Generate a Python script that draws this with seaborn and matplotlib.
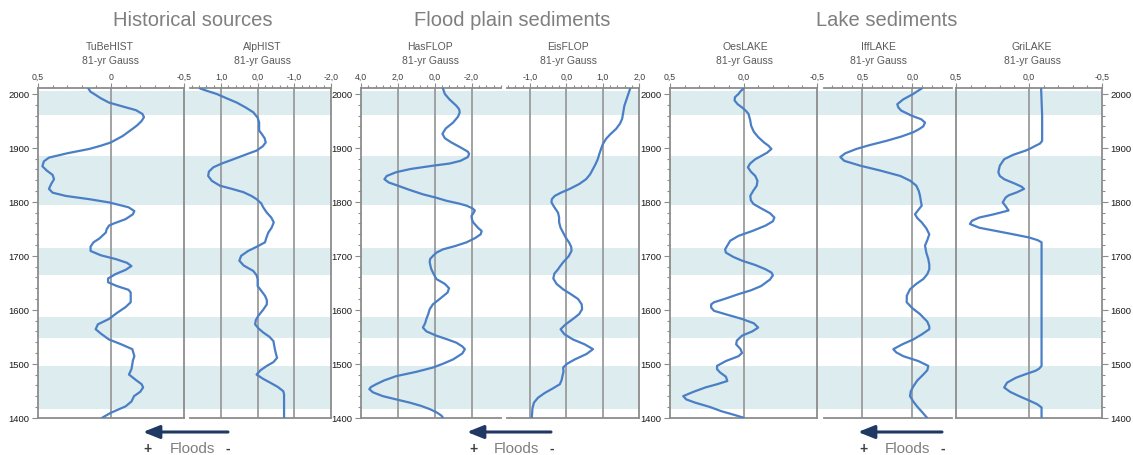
import matplotlib
matplotlib.use("Agg")
import matplotlib.pyplot as plt
import seaborn as sns
from matplotlib.ticker import MultipleLocator

# ---------------- data ----------------
band_ranges = [(1961, 2005), (1795, 1885), (1665, 1714), (1548, 1587), (1417, 1495)]

group_titles = ["Historical sources", "Flood plain sediments", "Lake sediments"]
panel_names = ["TuBeHIST", "AlpHIST", "HasFLOP", "EisFLOP", "OesLAKE", "IffLAKE", "GriLAKE"]
filter_label = "81-yr Gauss"

tubehist_year = [2010, 2004, 2000, 1992, 1984, 1976, 1970, 1963, 1957, 1950, 1942, 1935, 1922, 1910,
                 1904, 1898, 1890, 1882, 1875, 1866, 1858, 1850, 1842, 1833, 1824, 1817, 1811, 1805,
                 1799, 1790, 1783, 1777, 1768, 1760, 1756, 1749, 1743, 1732, 1725, 1717, 1709, 1701,
                 1694, 1687, 1681, 1674, 1666, 1658, 1651, 1644, 1637, 1632, 1614, 1605, 1594, 1583,
                 1573, 1564, 1556, 1545, 1536, 1527, 1514, 1506, 1499, 1490, 1480, 1470, 1462, 1456,
                 1448, 1440, 1430, 1421, 1414, 1409, 1400]
tubehist_val = [0.155, 0.14, 0.116, 0.07, 0.014, -0.09, -0.17, -0.215, -0.226, -0.21, -0.18, -0.146,
                -0.08, 0.002, 0.07, 0.15, 0.3, 0.425, 0.46, 0.47, 0.44, 0.4, 0.39, 0.41, 0.425, 0.4,
                0.31, 0.15, 0.014, -0.12, -0.16, -0.15, -0.1, -0.02, 0.014, 0.03, 0.036, 0.08, 0.12,
                0.14, 0.14, 0.07, -0.032, -0.11, -0.14, -0.1, -0.03, 0.02, 0.02, -0.04, -0.12, -0.135,
                -0.135, -0.1, -0.04, 0.014, 0.09, 0.105, 0.07, 0.014, -0.07, -0.146, -0.16, -0.15,
                -0.146, -0.14, -0.123, -0.17, -0.21, -0.22, -0.2, -0.158, -0.14, -0.1, -0.04, 0.002,
                0.06]

alphist_year = [2010, 2005, 2000, 1992, 1984, 1975, 1966, 1956, 1947, 1932, 1927, 1918, 1910, 1903,
                1895, 1887, 1879, 1871, 1864, 1856, 1848, 1839, 1830, 1824, 1818, 1811, 1805, 1797,
                1790, 1780, 1771, 1762, 1752, 1743, 1734, 1725, 1717, 1709, 1700, 1691, 1682, 1672,
                1664, 1657, 1644, 1635, 1626, 1618, 1610, 1600, 1589, 1581, 1573, 1565, 1558, 1550,
                1542, 1534, 1527, 1518, 1511, 1503, 1496, 1488, 1480, 1472, 1465, 1457, 1449, 1443,
                1400]
alphist_val = [1.57, 1.35, 1.12, 0.85, 0.57, 0.33, 0.12, 0.0, -0.04, -0.04, -0.1, -0.19, -0.22, -0.14,
               0.03, 0.35, 0.66, 0.98, 1.21, 1.33, 1.35, 1.25, 1.03, 0.7, 0.39, 0.17, 0.03, -0.1,
               -0.15, -0.25, -0.37, -0.44, -0.38, -0.29, -0.24, -0.2, 0.02, 0.26, 0.45, 0.5, 0.38,
               0.12, 0.03, 0.0, 0.0, -0.1, -0.2, -0.25, -0.25, -0.15, -0.02, 0.05, 0.07, -0.03, -0.15,
               -0.32, -0.43, -0.45, -0.47, -0.5, -0.53, -0.43, -0.25, -0.08, 0.03, -0.15, -0.34,
               -0.55, -0.7, -0.72, -0.72]

hasflop_year = [2010, 2000, 1990, 1978, 1972, 1966, 1958, 1947, 1936, 1926, 1918, 1910, 1900, 1893,
                1889, 1883, 1876, 1871, 1867, 1861, 1855, 1848, 1842, 1836, 1830, 1822, 1814, 1808,
                1802, 1797, 1793, 1788, 1784, 1779, 1774, 1768, 1762, 1752, 1746, 1740, 1733, 1725,
                1718, 1712, 1706, 1700, 1694, 1688, 1680, 1675, 1666, 1657, 1648, 1640, 1632, 1620,
                1610, 1601, 1592, 1583, 1575, 1567, 1560, 1552, 1545, 1539, 1532, 1527, 1519, 1508,
                1500, 1493, 1485, 1477, 1469, 1462, 1457, 1453, 1447, 1440, 1434, 1428, 1422, 1416,
                1410, 1404, 1400]
hasflop_val = [-0.45, -0.55, -0.8, -1.18, -1.32, -1.36, -1.27, -1.0, -0.6, -0.42, -0.55, -0.91, -1.45,
               -1.8, -1.87, -1.8, -1.4, -0.8, 0.09, 1.3, 2.09, 2.6, 2.73, 2.5, 2.0, 1.35, 0.64, -0.05,
               -0.64, -1.3, -1.73, -2.05, -2.18, -2.1, -2.0, -2.02, -2.09, -2.35, -2.55, -2.5, -2.2,
               -1.73, -1.1, -0.45, -0.1, 0.09, 0.25, 0.27, 0.22, 0.18, 0.05, -0.09, -0.55, -0.78,
               -0.7, -0.27, 0.1, 0.27, 0.35, 0.45, 0.52, 0.64, 0.45, -0.09, -0.7, -1.18, -1.5, -1.64,
               -1.5, -1.0, -0.45, 0.09, 1.0, 2.09, 2.75, 3.18, 3.45, 3.55, 3.35, 2.82, 2.1, 1.36,
               0.75, 0.27, -0.1, -0.36, -0.45]

eisflop_year = [2010, 2000, 1978, 1962, 1954, 1945, 1935, 1925, 1917, 1907, 1898, 1888, 1879, 1870,
                1861, 1851, 1842, 1833, 1824, 1817, 1811, 1805, 1799, 1790, 1780, 1771, 1762, 1752,
                1743, 1734, 1725, 1717, 1709, 1699, 1688, 1680, 1675, 1667, 1658, 1648, 1638, 1629,
                1620, 1610, 1601, 1592, 1583, 1573, 1564, 1555, 1545, 1536, 1527, 1518, 1508, 1500,
                1493, 1485, 1477, 1470, 1462, 1454, 1446, 1437, 1428, 1418, 1400]
eisflop_val = [1.75, 1.70, 1.59, 1.55, 1.53, 1.47, 1.36, 1.2, 1.09, 1.0, 0.95, 0.9, 0.86, 0.8, 0.73,
               0.65, 0.54, 0.35, 0.09, -0.15, -0.32, -0.4, -0.41, -0.33, -0.23, -0.2, -0.2, -0.16,
               -0.09, -0.02, 0.07, 0.13, 0.14, 0.06, -0.09, -0.18, -0.23, -0.33, -0.36, -0.27, -0.09,
               0.12, 0.32, 0.42, 0.43, 0.35, 0.18, -0.02, -0.16, -0.06, 0.18, 0.5, 0.73, 0.55, 0.23,
               0.02, -0.09, -0.08, -0.11, -0.13, -0.18, -0.38, -0.59, -0.78, -0.89, -0.93, -0.95]

oeslake_year = [2010, 2005, 2000, 1994, 1988, 1981, 1975, 1969, 1963, 1952, 1941, 1930, 1920, 1910,
                1904, 1898, 1891, 1885, 1879, 1871, 1864, 1856, 1848, 1839, 1830, 1820, 1811, 1803,
                1796, 1788, 1779, 1771, 1764, 1756, 1746, 1737, 1728, 1719, 1712, 1706, 1698, 1691,
                1683, 1675, 1669, 1664, 1656, 1650, 1644, 1636, 1629, 1620, 1614, 1610, 1604, 1598,
                1590, 1583, 1575, 1567, 1560, 1552, 1543, 1536, 1527, 1520, 1514, 1505, 1496, 1490,
                1484, 1476, 1468, 1462, 1456, 1448, 1440, 1434, 1428, 1420, 1412, 1405, 1400]
oeslake_val = [0.0, 0.02, 0.034, 0.058, 0.061, 0.04, 0.01, -0.015, -0.034, -0.045, -0.052, -0.07,
               -0.1, -0.14, -0.17, -0.19, -0.16, -0.12, -0.08, -0.045, -0.03, -0.05, -0.08, -0.095,
               -0.09, -0.065, -0.046, -0.05, -0.068, -0.12, -0.18, -0.21, -0.2, -0.15, -0.06, 0.034,
               0.09, 0.11, 0.125, 0.12, 0.07, 0.01, -0.08, -0.15, -0.19, -0.2, -0.18, -0.15, -0.12,
               -0.05, 0.034, 0.13, 0.2, 0.22, 0.22, 0.2, 0.1, 0.01, -0.07, -0.1, -0.06, 0.01, 0.045,
               0.05, 0.02, 0.01, 0.034, 0.12, 0.18, 0.18, 0.16, 0.12, 0.11, 0.18, 0.26, 0.34, 0.41,
               0.39, 0.33, 0.23, 0.15, 0.06, 0.0]

ifflake_year = [2010, 2005, 2000, 1990, 1981, 1975, 1969, 1960, 1953, 1947, 1940, 1935, 1929, 1921,
                1913, 1905, 1898, 1890, 1883, 1876, 1867, 1858, 1848, 1839, 1830, 1820, 1811, 1802,
                1793, 1785, 1777, 1770, 1762, 1751, 1740, 1729, 1719, 1706, 1694, 1684, 1675, 1666,
                1657, 1648, 1638, 1626, 1614, 1603, 1592, 1578, 1569, 1564, 1555, 1545, 1536, 1527,
                1521, 1514, 1505, 1496, 1488, 1480, 1469, 1458, 1449, 1440, 1430, 1421, 1410, 1400]
ifflake_val = [-0.094, -0.05, -0.01, 0.09, 0.15, 0.14, 0.11, 0.01, -0.09, -0.127, -0.11, -0.07, -0.01,
               0.11, 0.26, 0.43, 0.56, 0.67, 0.72, 0.68, 0.52, 0.32, 0.12, 0.02, -0.04, -0.065,
               -0.077, -0.085, -0.094, -0.06, -0.027, -0.05, -0.094, -0.14, -0.17, -0.15, -0.127,
               -0.14, -0.16, -0.17, -0.17, -0.15, -0.11, -0.04, 0.023, 0.055, 0.056, 0.0, -0.077,
               -0.15, -0.17, -0.17, -0.1, -0.01, 0.1, 0.19, 0.16, 0.09, -0.06, -0.16, -0.15, -0.11,
               -0.05, -0.01, 0.015, 0.023, -0.01, -0.047, -0.1, -0.147]

grilake_year = [2010, 1960, 1913, 1908, 1904, 1899, 1895, 1887, 1879, 1867, 1855, 1848, 1842, 1833,
                1828, 1824, 1818, 1812, 1808, 1799, 1792, 1784, 1777, 1771, 1765, 1759, 1752, 1746,
                1740, 1734, 1729, 1725, 1496, 1491, 1487, 1480, 1474, 1465, 1456, 1448, 1440, 1432,
                1425, 1419, 1400]
grilake_val = [-0.083, -0.09, -0.09, -0.075, -0.045, -0.01, 0.023, 0.11, 0.17, 0.2, 0.21, 0.2, 0.17,
               0.09, 0.05, 0.034, 0.08, 0.14, 0.16, 0.18, 0.16, 0.14, 0.24, 0.34, 0.39, 0.405, 0.34,
               0.225, 0.11, 0.0, -0.06, -0.086, -0.086, -0.07, -0.045, 0.03, 0.09, 0.15, 0.17, 0.13,
               0.068, 0.0, -0.056, -0.086, -0.086]

p1_ticks, p1_labels = [0.5, 0.0, -0.5], ["0,5", "0", "-0,5"]
p2_ticks, p2_labels = [1.0, 0.0, -1.0, -2.0], ["1,0", "0,0", "-1,0", "-2,0"]
p3_ticks, p3_labels = [4.0, 2.0, 0.0, -2.0], ["4,0", "2,0", "0,0", "-2,0"]
p4_ticks, p4_labels = [-1.0, 0.0, 1.0, 2.0], ["-1,0", "0,0", "1,0", "2,0"]
p5_ticks, p5_labels = [0.5, 0.0, -0.5], ["0,5", "0,0", "-0,5"]
p6_ticks, p6_labels = [0.5, 0.0], ["0,5", "0,0"]
p7_ticks, p7_labels = [0.5, 0.0, -0.5], ["0,5", "0,0", "-0,5"]
year_ticks = [1400, 1500, 1600, 1700, 1800, 1900, 2000]

# ---------------- style ----------------
sns.set_theme(style="white")
plt.rcParams['font.family'] = ['Liberation Sans', 'DejaVu Sans']

W, H = 1133, 456
Y_TOP, Y_BOT = 89, 418.7
YLIM = (1400, 2011)
LINE = "#4a7fc6"
GRID = "#9b9b9b"
SPINE = "#8c8c8c"
BAND = "#dcecef"

fig = plt.figure(figsize=(W / 100, H / 100), dpi=100)
yb = (H - Y_BOT) / H
hh = (Y_BOT - Y_TOP) / H


def rect(x0, x1):
    return [x0 / W, yb, (x1 - x0) / W, hh]


# band backgrounds per group
for gx0, gx1 in [(38, 331), (361, 639.3), (670, 1102)]:
    bg = fig.add_axes(rect(gx0, gx1))
    for lo, hi in band_ranges:
        bg.axhspan(lo, hi, color=BAND, lw=0)
    bg.set_ylim(*YLIM)
    bg.axis("off")


def panel(x0, x1, xlim, ticks, labels, minor, years, vals, spines, grid, yside):
    ax = fig.add_axes(rect(x0, x1), facecolor="none")
    sns.lineplot(x=vals, y=years, ax=ax, sort=False, estimator=None, color=LINE, lw=1.6,
                 zorder=3, solid_joinstyle="round", solid_capstyle="round")
    ax.set_xlim(*xlim)
    ax.set_ylim(*YLIM)
    ax.set_xlabel("")
    ax.set_ylabel("")
    for g in grid:
        ax.axvline(g, color=GRID, lw=1.3, zorder=1)
    for s in ["left", "right", "top", "bottom"]:
        ax.spines[s].set_visible(s in spines)
        ax.spines[s].set_color(SPINE)
        ax.spines[s].set_linewidth(1.3)
    ax.xaxis.tick_top()
    ax.set_xticks(ticks)
    ax.set_xticklabels(labels)
    ax.xaxis.set_minor_locator(MultipleLocator(minor))
    ax.tick_params(axis="x", which="both", top=True, bottom=False, labeltop=True,
                   labelbottom=False, direction="out", color=SPINE, width=0.8,
                   labelcolor="#404040", labelsize=6.3, pad=1.5)
    ax.tick_params(axis="x", which="major", length=3.5)
    ax.tick_params(axis="x", which="minor", length=2)
    ax.grid(False)
    if yside in ("left", "right"):
        if yside == "left":
            ax.yaxis.tick_left()
        else:
            ax.yaxis.tick_right()
        ax.set_yticks(year_ticks)
        ax.set_yticklabels([str(y) for y in year_ticks])
        ax.yaxis.set_minor_locator(MultipleLocator(20))
        ax.tick_params(axis="y", which="both", direction="out", color=SPINE, width=0.8,
                       labelcolor="#1a1a1a", labelsize=6.8, pad=2)
        ax.tick_params(axis="y", which="major", length=4)
        ax.tick_params(axis="y", which="minor", length=2)
    else:
        ax.tick_params(axis="y", which="both", left=False, right=False,
                       labelleft=False, labelright=False)
    return ax


panel(38, 184, (0.5, -0.5), p1_ticks, p1_labels, 0.1, tubehist_year, tubehist_val,
      ["left", "right", "top", "bottom"], [0.0], "left")
panel(190, 331, (1.845, -2.0), p2_ticks, p2_labels, 0.2, alphist_year, alphist_val,
      ["right", "top", "bottom"], [1.0, 0.0, -1.0], "none")
panel(361, 501, (4.0, -3.6), p3_ticks, p3_labels, 0.4, hasflop_year, hasflop_val,
      ["left", "top", "bottom"], [2.0, 0.0, -2.0], "left")
panel(507, 639.3, (-1.63, 2.0), p4_ticks, p4_labels, 0.2, eisflop_year, eisflop_val,
      ["right", "top", "bottom"], [-1.0, 0.0, 1.0], "none")
panel(670, 817, (0.5, -0.5), p5_ticks, p5_labels, 0.1, oeslake_year, oeslake_val,
      ["left", "right", "top", "bottom"], [0.0], "left")
panel(824, 952, (0.883, -0.397), p6_ticks, p6_labels, 0.1, ifflake_year, ifflake_val,
      ["top", "bottom"], [0.5, 0.0], "none")
panel(956, 1102, (0.5, -0.5), p7_ticks, p7_labels, 0.1, grilake_year, grilake_val,
      ["left", "right", "top", "bottom"], [0.0], "right")

# ---------------- overlay text / arrows ----------------
ov = fig.add_axes([0, 0, 1, 1], facecolor="none")
ov.set_xlim(0, W)
ov.set_ylim(H, 0)
ov.axis("off")

for txt, cx in zip(group_titles, [193, 512, 887]):
    ov.text(cx, 21, txt, ha="center", va="center", fontsize=14.5, color="#7f7f7f")

for name, cx in zip(panel_names, [110, 262, 430, 568, 745, 878, 1032]):
    ov.text(cx, 47.5, name, ha="center", va="center", fontsize=7.5, color="#595959")
    ov.text(cx, 61.5, filter_label, ha="center", va="center", fontsize=7.5, color="#595959")

for ax0, ax1, plus_x, fl_x, minus_x in [(228, 143, 147, 192, 228),
                                          (551, 467, 473, 516, 552),
                                          (942, 858, 863, 907, 943)]:
    ov.annotate("", xy=(ax1, 433), xytext=(ax0, 433),
                arrowprops=dict(arrowstyle="-|>,head_length=0.55,head_width=0.22",
                                color="#1f3864", lw=2.2, mutation_scale=18,
                                shrinkA=0, shrinkB=0))
    ov.text(plus_x, 449, "+", ha="center", va="center", fontsize=10, fontweight="bold",
            color="#404040")
    ov.text(fl_x, 449, "Floods", ha="center", va="center", fontsize=11, color="#7f7f7f")
    ov.text(minus_x, 449, "-", ha="center", va="center", fontsize=10, fontweight="bold",
            color="#404040")

fig.savefig("out.png", dpi=100)
